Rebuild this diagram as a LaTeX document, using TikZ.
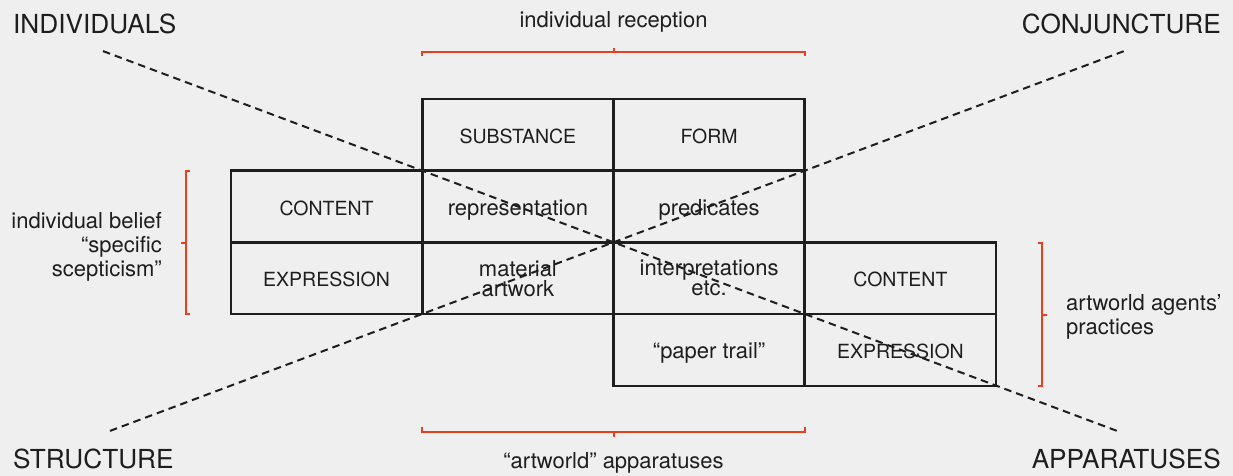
\documentclass[tikz,border=0pt]{standalone}
\usepackage{fontspec}
\setmainfont{TeX Gyre Heros}
\definecolor{bg}{HTML}{EFEFEF}
\definecolor{ink}{HTML}{1E1E1E}
\definecolor{accent}{HTML}{E8401C}
\begin{document}
\begin{tikzpicture}[x=1pt,y=-1pt,
  cell/.style={draw=ink,line width=2.7pt,minimum width=191.25pt,minimum height=71.75pt,
    inner sep=0pt,outer sep=0pt,text=ink},
  capcell/.style={cell,font=\fontsize{19.5}{20}\selectfont,text height=16.8pt,text depth=0pt},
  lowcell/.style={cell,font=\fontsize{22}{20}\selectfont,text height=16.8pt,text depth=0pt},
  twocell/.style={cell,align=center,font=\fontsize{22}{20}\selectfont},
  corner/.style={text=ink,font=\fontsize{26.2}{28}\selectfont,inner sep=0pt},
  sidelabel/.style={text=ink,font=\fontsize{22}{24}\selectfont,inner sep=0pt},
  diag/.style={draw=ink,line width=2pt,dash pattern=on 7.5pt off 5pt},
  bracket/.style={draw=accent,line width=2pt}
]
\fill[bg] (0,0) rectangle (1233,476);
\useasboundingbox (0,0) rectangle (1233,476);

% cells
\node[capcell] (substance) at (517.9,134.9) {SUBSTANCE};
\node[capcell] (form)      at (709.1,134.9) {FORM};
\node[capcell] (content1)  at (326.6,206.6) {CONTENT};
\node[lowcell] (repr)      at (517.9,206.6) {representation};
\node[lowcell] (pred)      at (709.1,206.6) {predicates};
\node[capcell] (expr1)     at (326.6,278.2) {EXPRESSION};
\node[twocell] (material)  at (517.9,278.2) {material\\artwork};
\node[twocell] (interp)    at (709.1,278.2) {interpretations\\etc.};
\node[capcell] (content2)  at (900.4,278.2) {CONTENT};
\node[lowcell] (paper)     at (709.1,350.0) {“paper trail”};
\node[capcell] (expr2)     at (900.4,350.0) {EXPRESSION};

% corner labels
\node[corner,anchor=base west] (individuals) at (13,34) {INDIVIDUALS};
\node[corner,anchor=base east] (conjuncture) at (1221,34) {CONJUNCTURE};
\node[corner,anchor=base west] (structure) at (13,468) {STRUCTURE};
\node[corner,anchor=base east] (apparatuses) at (1221,468) {APPARATUSES};

% diagonal ends
\coordinate (d1a) at (103,51.1);
\coordinate (d1b) at (1117,430.9);
\coordinate (d2a) at (110,430.9);
\coordinate (d2b) at (1124,51.1);
\draw[diag] (d1a) -- (d1b);
\draw[diag] (d2a) -- (d2b);

% brackets
\draw[bracket] (422,56) -- (422,52) -- (805,52) -- (805,56);
\draw[bracket] (613.5,52) -- (613.5,48);
\draw[bracket] (422,427) -- (422,432) -- (805,432) -- (805,427);
\draw[bracket] (613.5,432) -- (613.5,437);
\draw[bracket] (190,171) -- (186,171) -- (186,314) -- (190,314);
\draw[bracket] (186,242.5) -- (181,242.5);
\draw[bracket] (1038,243) -- (1042,243) -- (1042,386) -- (1038,386);
\draw[bracket] (1042,314.5) -- (1047,314.5);

% bracket labels
\node[sidelabel,anchor=base] (reception) at (613.5,28) {individual reception};
\node[sidelabel,anchor=base] (artworld) at (613.5,468) {“artworld” apparatuses};
\node[sidelabel,align=right,anchor=east] (belief) at (162,247) {individual belief\\“specific\\scepticism”};
\node[sidelabel,align=left,anchor=west] (agents) at (1066,316.5) {artworld agents’\\practices};
\end{tikzpicture}
\end{document}
